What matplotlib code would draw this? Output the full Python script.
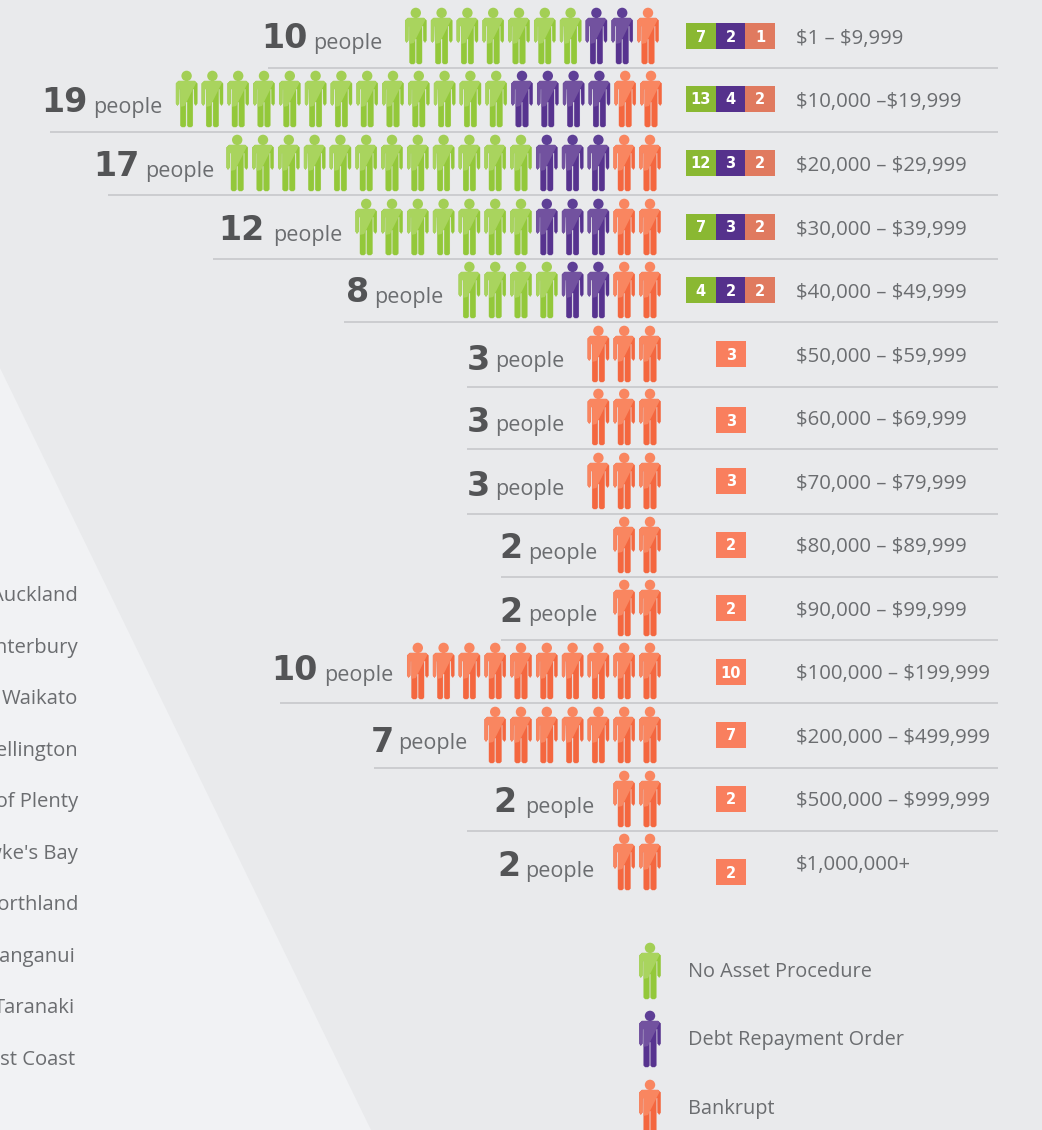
import matplotlib
matplotlib.use("Agg")
import matplotlib.pyplot as plt
from matplotlib.patches import Polygon, Circle, Rectangle

plt.rcParams['font.family'] = ['Lato', 'DejaVu Sans']
plt.rcParams['text.parse_math'] = False

no_asset = [7, 13, 12, 7, 4, 0, 0, 0, 0, 0, 0, 0, 0, 0]
debt = [2, 4, 3, 3, 2, 0, 0, 0, 0, 0, 0, 0, 0, 0]
bankrupt = [1, 2, 2, 2, 2, 3, 3, 3, 2, 2, 10, 7, 2, 2]
ranges = ["$1 – $9,999", "$10,000 –$19,999", "$20,000 – $29,999", "$30,000 – $39,999",
          "$40,000 – $49,999", "$50,000 – $59,999", "$60,000 – $69,999", "$70,000 – $79,999",
          "$80,000 – $89,999", "$90,000 – $99,999", "$100,000 – $199,999",
          "$200,000 – $499,999", "$500,000 – $999,999", "$1,000,000+"]
regions = ["Auckland", "Canterbury", "Waikato", "Wellington", "Bay of Plenty",
           "Hawke's Bay", "Northland", "Whanganui", "Taranaki", "West Coast"]
legend_names = ["No Asset Procedure", "Debt Repayment Order", "Bankrupt"]

# layout, in pixels
head_top = [8, 71, 135, 199, 262, 326, 389, 453, 517, 580, 643, 707, 771, 834]
last_x = [648, 651, 650, 650, 650, 650, 650, 650, 650, 650, 650, 650, 650, 650]
line_y = [67.5, 131.5, 195, 259, 322, 387, 449, 514, 577, 640, 703, 768, 831]
line_x = [268, 50, 108, 213, 344, 467, 467, 467, 501, 501, 280, 374, 467]
num_right = [308, 88, 140, 264, 369, 490, 490, 490, 523, 523, 318, 394, 516, 520]
num_y = [39, 103, 167, 231, 292, 360, 423, 487, 548, 612, 671, 742, 803, 866]
word_right = [382, 162, 214, 342, 443, 564, 564, 564, 597, 597, 393, 467, 594, 594]
word_y = [44, 107, 171, 235, 298, 362, 425, 489, 553, 616, 675, 744, 807, 871]
box_y = [36, 99, 163, 227, 290, 354, 420, 481, 545, 608, 672, 735, 799, 872]
range_y = [39, 102, 166, 230, 293, 357, 420, 484, 547, 611, 674, 738, 801, 865]
region_y = [596, 647.5, 699, 751, 802, 854, 905, 957, 1008, 1060]
region_x = [78, 78, 78, 78, 78, 78, 78, 75, 75, 75]

GREEN = ("#93c83a", "#a9d45e", "#a3cf55")
PURPLE = ("#57338f", "#72529f", "#5e3f96")
ORANGE = ("#f4673f", "#f98660", "#f98660")
GREY = "#6b6d70"
DARK = "#535456"
BIG = ['DejaVu Sans']
PLAIN = ['Open Sans', 'DejaVu Sans']

fig = plt.figure(figsize=(10.42, 11.3), dpi=100, facecolor="#e9eaec")
ax = fig.add_axes([0, 0, 1, 1])
ax.set_xlim(0, 1042)
ax.set_ylim(1130, 0)
ax.axis("off")

ax.add_patch(Polygon([(0, 368), (371, 1130), (0, 1130)], color="#f1f2f4", lw=0))

BODY = [(-8, 10), (8, 10), (10.6, 12.5), (10.6, 32.5), (9.2, 34.5), (7.6, 32.5),
        (7.4, 18), (6.2, 18), (6.2, 54.5), (4.8, 56), (2, 56), (0.7, 54.5), (0.7, 31),
        (-0.7, 31), (-0.7, 54.5), (-2, 56), (-4.8, 56), (-6.2, 54.5), (-6.2, 18), (-7.4, 18),
        (-7.6, 32.5), (-9.2, 34.5), (-10.6, 32.5), (-10.6, 12.5)]
SHINE = [(-12, 8), (11.5, 8), (-2, 35), (-12, 37)]


def person(cx, top, colors):
    dark, light, head = colors
    body = Polygon([(cx + a, top + b) for a, b in BODY], closed=True, fc=dark, ec=dark, lw=0.3)
    ax.add_patch(body)
    shine = Polygon([(cx + a, top + b) for a, b in SHINE], closed=True, fc=light, lw=0)
    ax.add_patch(shine)
    shine.set_clip_path(body)
    ax.add_patch(Circle((cx, top + 4.9), 5.2, fc=head, lw=0))


for i in range(len(ranges)):
    colors = [GREEN] * no_asset[i] + [PURPLE] * debt[i] + [ORANGE] * bankrupt[i]
    n = len(colors)
    for j, c in enumerate(colors):
        person(last_x[i] - (n - 1 - j) * 25.8, head_top[i], c)
    ax.text(num_right[i], num_y[i], str(n), ha="right", va="center", fontsize=24,
            fontweight="bold", color=DARK, family=BIG)
    ax.text(word_right[i], word_y[i], "people", ha="right", va="center", fontsize=15.5,
            color=GREY, family=PLAIN)
    ax.text(796, range_y[i], ranges[i], ha="left", va="center", fontsize=14.7, color=GREY,
            family=PLAIN)

    parts = [(no_asset[i], "#8ab832"), (debt[i], "#55318c"), (bankrupt[i], "#e07a5f")]
    if no_asset[i] == 0:
        parts = [(bankrupt[i], "#f97f5e")]
        left = 716
    else:
        left = 686
    for val, col in parts:
        ax.add_patch(Rectangle((left, box_y[i] - 13), 29.7, 26, fc=col, lw=0))
        ax.text(left + 14.8, box_y[i] + 1, str(val), ha="center", va="center", fontsize=10.5,
                fontweight="bold", color="white", family=BIG)
        left += 29.7

for y, x in zip(line_y, line_x):
    ax.plot([x, 998], [y, y], color="#c9cacd", lw=1.3, solid_capstyle="butt")

for name, y, x in zip(regions, region_y, region_x):
    ax.text(x, y, name, ha="right", va="center", fontsize=14.6, color=GREY, family=PLAIN)

for name, top, c in zip(legend_names, [943, 1011, 1080], [GREEN, PURPLE, ORANGE]):
    person(650, top, c)
    ax.text(688, top + 29, name, ha="left", va="center", fontsize=14.3, color=GREY,
            family=PLAIN)

fig.savefig("out.png", dpi=100, facecolor=fig.get_facecolor())
